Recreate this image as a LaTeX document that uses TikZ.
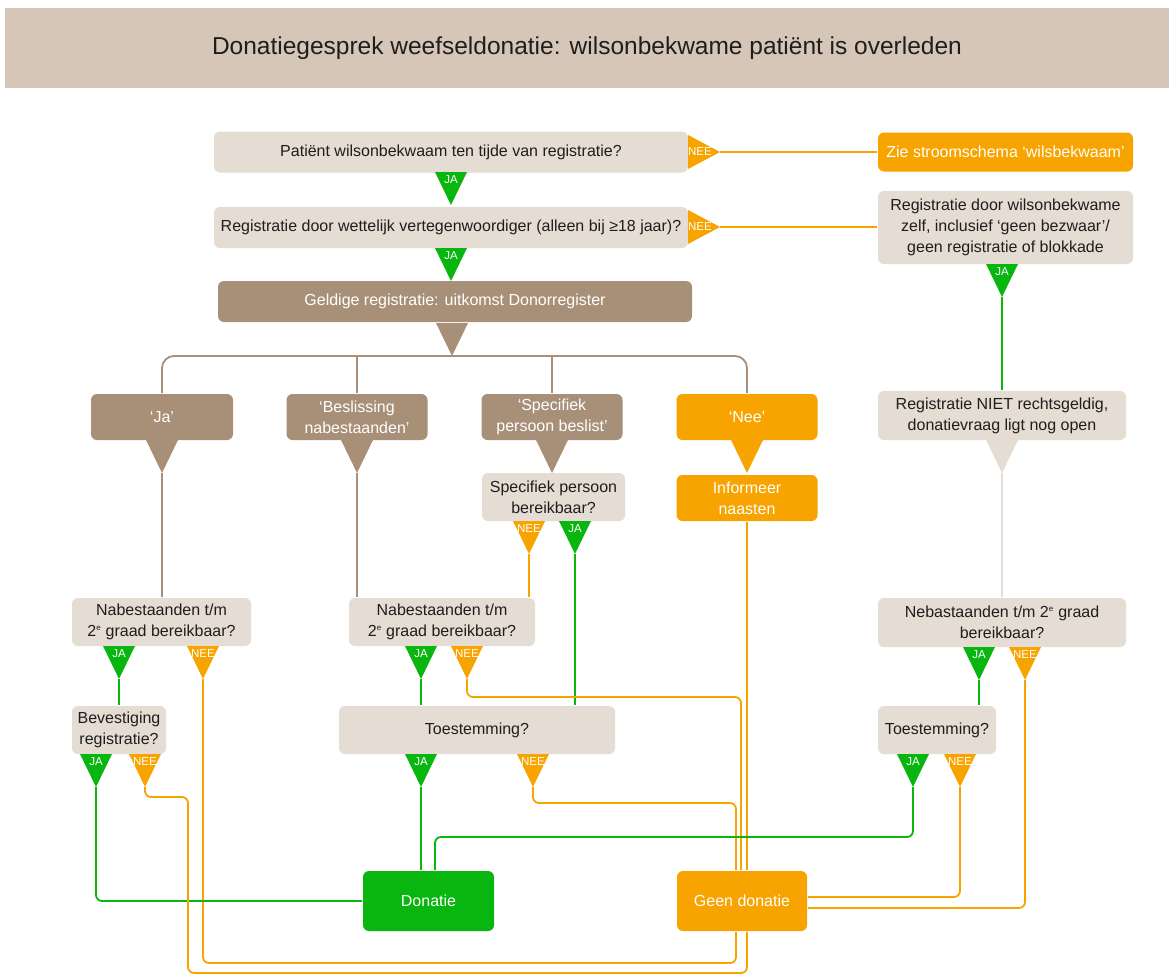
\documentclass[tikz,border=0pt]{standalone}
\usepackage{fontspec}
\setmainfont{Liberation Sans}
\usetikzlibrary{positioning}
\definecolor{cTitle}{HTML}{D5C6B8}
\definecolor{cBeige}{HTML}{E5DCD3}
\definecolor{cBrown}{HTML}{A89078}
\definecolor{cOrange}{HTML}{F7A300}
\definecolor{cGreen}{HTML}{09B50F}
\definecolor{cText}{HTML}{1E1E1E}
\newcommand{\supe}{\textsuperscript{\fontsize{8}{8}\selectfont e}}
\tikzset{
	every path/.style = {line width=1.8pt},
	box/.style = {rounded corners=6pt, align=center, inner sep=2pt, font=\fontsize{16}{21}\selectfont},
	qbox/.style = {box, fill=cBeige, text=cText},
	brownbox/.style = {box, fill=cBrown, text=white},
	orangebox/.style = {box, fill=cOrange, text=white},
	greenbox/.style = {box, fill=cGreen, text=white},
	titlebar/.style = {fill=cTitle, text=cText, font=\fontsize{24.5}{28}\selectfont},
	tabtext/.style = {text=white, inner sep=0pt, font=\fontsize{11.5}{11.5}\selectfont},
	jaline/.style = {draw=cGreen, rounded corners=6pt},
	neeline/.style = {draw=cOrange, rounded corners=6pt},
	brownline/.style = {draw=cBrown, rounded corners=12pt},
	beigeline/.style = {draw=cBeige}
}
\newcommand{\tabdown}[5]{
	\fill[#4] ({#2-16},#3) -- ({#2+16},#3) -- (#2,{#3+33}) -- cycle;
	\node[tabtext] (#1l) at (#2,{#3+8}) {#5};
	\coordinate (#1) at (#2,{#3+33});
}
\newcommand{\tabright}[5]{
	\fill[#4] (#2,{#3-17}) -- (#2,{#3+17}) -- ({#2+32},#3) -- cycle;
	\node[tabtext] (#1l) at ({#2+12},#3) {#5};
	\coordinate (#1) at ({#2+32},#3);
}

\begin{document}
\begin{tikzpicture}[x=1pt, y=-1pt]
	\useasboundingbox[fill=white] (0,0) rectangle (1169,977);
	\node[titlebar, minimum width=1164pt, minimum height=80pt] (title) at (587,48) {Donatiegesprek weefseldonatie: wilsonbekwame patiënt is overleden};

	\node[qbox, minimum width=474pt, minimum height=41pt] (reg) at (451,152) {Patiënt wilsonbekwaam ten tijde van registratie?};
	\node[orangebox, minimum width=255pt, minimum height=39pt] (zie) at (1005.5,152) {Zie stroomschema ‘wilsbekwaam’};
	\node[qbox, minimum width=474pt, minimum height=41pt] (vert) at (451,227.5) {Registratie door wettelijk vertegenwoordiger (alleen bij ≥18 jaar)?};
	\node[qbox, minimum width=255pt, minimum height=73pt] (zelf) at (1005.5,227.5) {Registratie door wilsonbekwame\\zelf, inclusief ‘geen bezwaar’/\\geen registratie of blokkade};
	\node[brownbox, minimum width=474pt, minimum height=41pt] (geldig) at (455,301.5) {Geldige registratie: uitkomst Donorregister};
	\node[brownbox, minimum width=142pt, minimum height=46pt] (ja) at (162,417) {‘Ja’};
	\node[brownbox, minimum width=141pt, minimum height=46pt] (besl) at (357,417) {‘Beslissing\\nabestaanden’};
	\node[brownbox, minimum width=141pt, minimum height=46pt] (spec) at (552,417) {‘Specifiek\\persoon beslist’};
	\node[orangebox, minimum width=141pt, minimum height=46pt] (nee) at (747,417) {‘Nee’};
	\node[qbox, minimum width=248pt, minimum height=49pt] (open) at (1002,415.5) {Registratie NIET rechtsgeldig,\\donatievraag ligt nog open};
	\node[qbox, minimum width=143pt, minimum height=48pt] (persoon) at (553.5,497) {Specifiek persoon\\bereikbaar?};
	\node[orangebox, minimum width=141pt, minimum height=46pt] (inform) at (747,498) {Informeer\\naasten};
	\node[qbox, minimum width=179pt, minimum height=48pt] (nab1) at (161.5,622) {Nabestaanden t/m\\2\supe{} graad bereikbaar?};
	\node[qbox, minimum width=186pt, minimum height=48pt] (nab2) at (442,622) {Nabestaanden t/m\\2\supe{} graad bereikbaar?};
	\node[qbox, minimum width=248pt, minimum height=49pt] (nab3) at (1002,622.5) {Nebastaanden t/m 2\supe{} graad\\bereikbaar?};
	\node[qbox, minimum width=94pt, minimum height=48pt] (bev) at (119,730) {Bevestiging\\registratie?};
	\node[qbox, minimum width=276pt, minimum height=48pt] (toe2) at (477,730) {Toestemming?};
	\node[qbox, minimum width=118pt, minimum height=48pt] (toe3) at (937,730) {Toestemming?};
	\node[greenbox, minimum width=131pt, minimum height=60pt] (don) at (428.5,901) {Donatie};
	\node[orangebox, minimum width=130pt, minimum height=60pt] (geen) at (742,901) {Geen donatie};

	\tabright{regnee}{688}{152}{cOrange}{NEE}
	\tabright{vertnee}{688}{227}{cOrange}{NEE}
	\tabdown{regja}{451}{172}{cGreen}{JA}
	\tabdown{vertja}{451}{248}{cGreen}{JA}
	\tabdown{zelfja}{1002}{264}{cGreen}{JA}
	\tabdown{geldigtip}{452}{323}{cBrown}{}
	\tabdown{jatip}{162}{440}{cBrown}{}
	\tabdown{besltip}{357}{440}{cBrown}{}
	\tabdown{spectip}{552}{440}{cBrown}{}
	\tabdown{neetip}{747}{440}{cOrange}{}
	\tabdown{opentip}{1002}{440}{cBeige}{}
	\tabdown{persnee}{529}{521}{cOrange}{NEE}
	\tabdown{persja}{575}{521}{cGreen}{JA}
	\tabdown{nabja}{119}{646}{cGreen}{JA}
	\tabdown{nabnee}{203}{646}{cOrange}{NEE}
	\tabdown{nabtwoja}{421}{646}{cGreen}{JA}
	\tabdown{nabtwonee}{467}{646}{cOrange}{NEE}
	\tabdown{nabthreeja}{979}{647}{cGreen}{JA}
	\tabdown{nabthreenee}{1025}{647}{cOrange}{NEE}
	\tabdown{bevja}{96}{754}{cGreen}{JA}
	\tabdown{bevnee}{145}{754}{cOrange}{NEE}
	\tabdown{toetwoja}{421}{754}{cGreen}{JA}
	\tabdown{toetwonee}{533}{754}{cOrange}{NEE}
	\tabdown{toethreeja}{913}{754}{cGreen}{JA}
	\tabdown{toethreenee}{960}{754}{cOrange}{NEE}

	\draw[neeline] (regnee) -- (regnee -| zie.west);
	\draw[neeline] (vertnee) -- (vertnee -| zelf.west);
	\draw[jaline] (zelfja) -- (open.north);
	\draw[brownline] (ja.north) |- (geldigtip) -| (nee.north);
	\draw[brownline] (besl.north) -- (besl.north |- geldigtip);
	\draw[brownline] (spec.north) -- (spec.north |- geldigtip);
	\draw[brownline] (jatip) -- (jatip |- nab1.north);
	\draw[brownline] (besltip) -- (besltip |- nab2.north);
	\draw[beigeline] (opentip) -- (nab3.north);
	\draw[neeline] (persnee) -- (persnee |- nab2.north);
	\draw[jaline] (persja) -- (persja |- toe2.north);
	\draw[jaline] (nabja) -- (nabja |- bev.north);
	\draw[neeline] (nabnee) -- ++(0,284) -| ([xshift=-6pt]geen.south);
	\draw[jaline] (nabtwoja) -- (nabtwoja |- toe2.north);
	\draw[neeline] (nabtwonee) -- ++(0,18) -| ([xshift=-1pt]geen.north);
	\draw[neeline] (inform.south) -- (inform.south |- geen.north);
	\draw[jaline] (nabthreeja) -- (nabthreeja |- toe3.north);
	\draw[neeline] (nabthreenee) |- ([yshift=-7pt]geen.east);
	\draw[jaline] (bevja) |- (don.west);
	\draw[neeline] (bevnee) -- ++(0,10) -| ++(43,176) -| ([xshift=5pt]geen.south);
	\draw[jaline] (toetwoja) -- (toetwoja |- don.north);
	\draw[neeline] (toetwonee) -- ++(0,16) -| ([xshift=-6pt]geen.north);
	\draw[jaline] (toethreeja) -- ++(0,50) -| ([xshift=6.5pt]don.north);
	\draw[neeline] (toethreenee) |- ([yshift=4pt]geen.east);
\end{tikzpicture}
\end{document}
